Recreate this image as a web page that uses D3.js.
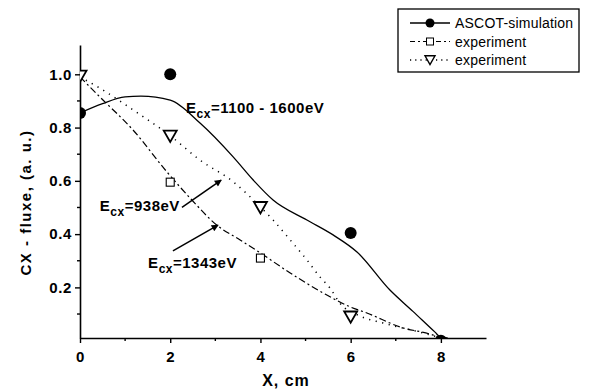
<!DOCTYPE html>
<html>
<head>
<meta charset="utf-8">
<script src="https://cdn.jsdelivr.net/npm/d3@7"></script>
<style>
  body { margin: 0; background: #fff; }
  svg { display: block; }
</style>
</head>
<body>
<script>
// ASCOT simulation curve (smooth fit) and its points
const simCurveX = [0, 0.5, 1.0, 1.35, 2.0, 2.66, 3.4, 3.84, 4.28, 5.03, 5.61, 6.14, 6.87, 7.38, 7.87, 8.0, 8.15];
const simCurveY = [0.855, 0.89, 0.915, 0.918, 0.903, 0.817, 0.689, 0.603, 0.528, 0.453, 0.397, 0.333, 0.19, 0.11, 0.032, 0.012, 0.01];
const simPtsX = [0, 2, 6, 8];
const simPtsY = [0.855, 1.0, 0.404, 0.0];

// experiment, E_cx = 1343 eV (dash-dot, squares)
const sqCurveX = [0, 0.44, 1.18, 1.93, 2.48, 3.03, 3.55, 4.0, 4.66, 5.39, 6.0, 6.36, 7.1, 7.83, 8.0];
const sqCurveY = [0.99, 0.915, 0.79, 0.633, 0.528, 0.434, 0.378, 0.329, 0.254, 0.179, 0.126, 0.104, 0.051, 0.021, 0.01];
const sqPtsX = [2, 4];
const sqPtsY = [0.595, 0.31];

// experiment, E_cx = 938 eV (dotted, triangles)
const triCurveX = [0, 0.44, 1.18, 1.98, 2.66, 3.4, 4.0, 4.28, 4.66, 5.03, 5.32, 5.54, 5.76, 6.2, 6.72, 7.6, 8.0];
const triCurveY = [0.99, 0.948, 0.866, 0.772, 0.678, 0.596, 0.502, 0.453, 0.378, 0.303, 0.239, 0.198, 0.141, 0.093, 0.066, 0.029, 0.01];
const triPtsX = [0, 2, 4, 6];
const triPtsY = [0.993, 0.768, 0.50, 0.089];

const xTicks = [0, 2, 4, 6, 8];
const xMinor = [1, 3, 5, 7];
const yTicks = [0.2, 0.4, 0.6, 0.8, 1.0];
const yMinor = [0.1, 0.3, 0.5, 0.7, 0.9];

const legendLabels = ['ASCOT-simulation', 'experiment', 'experiment'];

// annotation texts, anchor positions in data units
const annoMain = ['E', 'E', 'E'];
const annoSub = ['cx', 'cx', 'cx'];
const annoRest = ['=1100 - 1600eV', '=938eV', '=1343eV'];
const annoX = [2.35, 0.44, 1.51];
const annoY = [0.855, 0.487, 0.273];
// arrows: from -> to, data units
const arrowFromX = [2.26, 2.06];
const arrowFromY = [0.5, 0.337];
const arrowToX = [3.13, 3.06];
const arrowToY = [0.603, 0.434];

const width = 590, height = 390;
const margin = { top: 45, right: 104, bottom: 52, left: 80 };
const font = '"Liberation Sans", Arial, sans-serif';

const svg = d3.select('body').append('svg')
  .attr('width', width)
  .attr('height', height);

const x = d3.scaleLinear().domain([0, 9]).range([margin.left, width - margin.right]);
const y = d3.scaleLinear().domain([0.01, 1.11]).range([height - margin.bottom, margin.top]);

const defs = svg.append('defs');
defs.append('clipPath').attr('id', 'clipArea')
  .append('rect')
  .attr('x', x(0)).attr('y', y(1.11))
  .attr('width', x(9) - x(0)).attr('height', y(0.01) - y(1.11));

defs.append('marker')
  .attr('id', 'arrow')
  .attr('viewBox', '0 0 10 10')
  .attr('refX', 9).attr('refY', 5)
  .attr('markerWidth', 9).attr('markerHeight', 7)
  .attr('markerUnits', 'userSpaceOnUse')
  .attr('orient', 'auto')
  .append('path')
  .attr('d', 'M0,0 L10,5 L0,10 z')
  .attr('fill', '#000');

// axes
const xAxis = svg.append('g')
  .attr('transform', `translate(0,${y(0.01)})`)
  .call(d3.axisBottom(x).tickValues(xTicks).tickFormat(d3.format('d')).tickSize(5).tickSizeOuter(0));
xAxis.selectAll('line.minor')
  .data(xMinor)
  .enter().append('line')
  .attr('class', 'minor')
  .attr('x1', d => x(d)).attr('x2', d => x(d))
  .attr('y1', 0).attr('y2', 3)
  .attr('stroke', '#000');

const yAxis = svg.append('g')
  .attr('transform', `translate(${x(0)},0)`)
  .call(d3.axisLeft(y).tickValues(yTicks).tickFormat(d3.format('.1f')).tickSize(5).tickSizeOuter(0));
yAxis.selectAll('line.minor')
  .data(yMinor)
  .enter().append('line')
  .attr('class', 'minor')
  .attr('y1', d => y(d)).attr('y2', d => y(d))
  .attr('x1', 0).attr('x2', -3)
  .attr('stroke', '#000');

[xAxis, yAxis].forEach(g => {
  g.select('.domain').attr('stroke-width', 1.6);
  g.selectAll('line').attr('stroke-width', 1.4);
  g.selectAll('text')
    .attr('font-family', font)
    .attr('font-weight', 'bold')
    .attr('font-size', 15)
    .attr('letter-spacing', 0.6)
    .attr('fill', '#000');
});
xAxis.selectAll('text').attr('dy', '1.05em');
yAxis.selectAll('text').attr('x', -8);

// axis titles
svg.append('text')
  .attr('x', (x(0) + x(9)) / 2 + 3)
  .attr('y', height - 4)
  .attr('text-anchor', 'middle')
  .attr('font-family', font)
  .attr('font-weight', 'bold')
  .attr('font-size', 16)
  .attr('letter-spacing', 1)
  .text('X, cm');

svg.append('text')
  .attr('transform', `translate(31,${(y(0.01) + y(1.11)) / 2 + 11}) rotate(-90)`)
  .attr('text-anchor', 'middle')
  .attr('font-family', font)
  .attr('font-weight', 'bold')
  .attr('font-size', 15)
  .attr('letter-spacing', 1.5)
  .text('CX - fluxe, (a. u.)');

// curves
const plot = svg.append('g').attr('clip-path', 'url(#clipArea)');
const line = d3.line().x(d => x(d[0])).y(d => y(d[1])).curve(d3.curveMonotoneX);

const styles = [
  { dash: null, width: 1.3 },
  { dash: '7,3,2,3', width: 1.2 },
  { dash: '1.2,5.5', width: 1.5 }
];

plot.append('path')
  .datum(d3.zip(simCurveX, simCurveY))
  .attr('fill', 'none').attr('stroke', '#000')
  .attr('stroke-width', styles[0].width)
  .attr('d', line);

plot.append('path')
  .datum(d3.zip(sqCurveX, sqCurveY))
  .attr('fill', 'none').attr('stroke', '#000')
  .attr('stroke-width', styles[1].width)
  .attr('stroke-dasharray', styles[1].dash)
  .attr('d', line);

plot.append('path')
  .datum(d3.zip(triCurveX, triCurveY))
  .attr('fill', 'none').attr('stroke', '#000')
  .attr('stroke-width', styles[2].width)
  .attr('stroke-dasharray', styles[2].dash)
  .attr('d', line);

// markers
const triPath = s => `M${-s / 2},${-s * 0.42} L${s / 2},${-s * 0.42} L0,${s * 0.45} Z`;

plot.selectAll('rect.sq')
  .data(d3.zip(sqPtsX, sqPtsY))
  .enter().append('rect')
  .attr('class', 'sq')
  .attr('x', d => x(d[0]) - 4).attr('y', d => y(d[1]) - 4)
  .attr('width', 8).attr('height', 8)
  .attr('fill', '#fff').attr('stroke', '#000').attr('stroke-width', 1.1);

plot.selectAll('path.tri')
  .data(d3.zip(triPtsX, triPtsY))
  .enter().append('path')
  .attr('class', 'tri')
  .attr('transform', d => `translate(${x(d[0])},${y(d[1])})`)
  .attr('d', triPath(13))
  .attr('fill', '#fff').attr('stroke', '#000').attr('stroke-width', 1.8);

plot.selectAll('circle.sim')
  .data(d3.zip(simPtsX, simPtsY))
  .enter().append('circle')
  .attr('class', 'sim')
  .attr('cx', d => x(d[0])).attr('cy', d => y(d[1]))
  .attr('r', 6)
  .attr('fill', '#000');

// annotations
annoMain.forEach((m, i) => {
  const t = svg.append('text')
    .attr('x', x(annoX[i])).attr('y', y(annoY[i]))
    .attr('font-family', font)
    .attr('font-weight', 'bold')
    .attr('font-size', 15)
    .attr('letter-spacing', 0.5);
  t.append('tspan').text(m);
  t.append('tspan').attr('font-size', 12).attr('dy', 5).text(annoSub[i]);
  t.append('tspan').attr('dy', -5).text(annoRest[i]);
});

arrowFromX.forEach((fx, i) => {
  svg.append('line')
    .attr('x1', x(fx)).attr('y1', y(arrowFromY[i]))
    .attr('x2', x(arrowToX[i])).attr('y2', y(arrowToY[i]))
    .attr('stroke', '#000').attr('stroke-width', 1.5)
    .attr('marker-end', 'url(#arrow)');
});

// legend
const legend = svg.append('g').attr('transform', 'translate(398,9)');
legend.append('rect')
  .attr('width', 181).attr('height', 63)
  .attr('fill', '#fff').attr('stroke', '#000').attr('stroke-width', 1.3);

const rows = legend.selectAll('g.row')
  .data(legendLabels)
  .enter().append('g')
  .attr('class', 'row')
  .attr('transform', (d, i) => `translate(0,${14 + i * 18.5})`);

rows.append('line')
  .attr('x1', 12).attr('x2', 52)
  .attr('stroke', '#000')
  .attr('stroke-width', (d, i) => styles[i].width)
  .attr('stroke-dasharray', (d, i) => i === 1 ? '5,3,2,3' : (i === 2 ? '1.2,4' : null));

rows.each(function (d, i) {
  const g = d3.select(this);
  if (i === 0) {
    g.append('circle').attr('cx', 32).attr('r', 4.5).attr('fill', '#000');
  } else if (i === 1) {
    g.append('rect').attr('x', 28.5).attr('y', -3.5).attr('width', 7).attr('height', 7)
      .attr('fill', '#fff').attr('stroke', '#000').attr('stroke-width', 1);
  } else {
    g.append('path').attr('transform', 'translate(32,0)').attr('d', triPath(10))
      .attr('fill', '#fff').attr('stroke', '#000').attr('stroke-width', 1.4);
  }
});

rows.append('text')
  .attr('x', 57).attr('y', 5)
  .attr('font-family', font)
  .attr('font-size', 14)
  .attr('letter-spacing', 0.2)
  .text(d => d);
</script>
</body>
</html>
